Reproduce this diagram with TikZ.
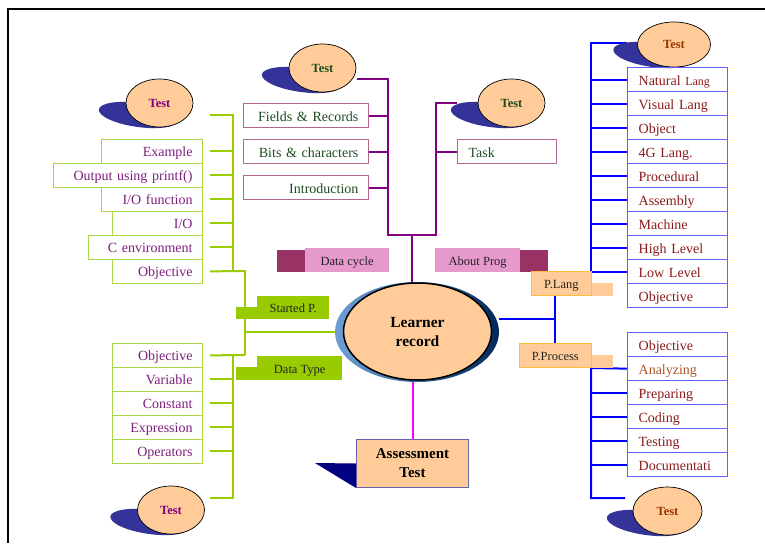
\documentclass[tikz,border=0pt]{standalone}
\usepackage{fontspec}
\setmainfont{Liberation Serif}
\usetikzlibrary{shapes.geometric}
\pgfdeclarelayer{bg}
\pgfsetlayers{bg,main}
\definecolor{peachC}{RGB}{255,204,153}
\definecolor{shC}{RGB}{51,51,153}
\definecolor{glC}{RGB}{153,204,0}
\definecolor{gbC}{RGB}{170,215,70}
\definecolor{gtC}{RGB}{125,30,125}
\definecolor{plC}{RGB}{128,0,128}
\definecolor{pbC}{RGB}{180,100,145}
\definecolor{ptC}{RGB}{30,75,30}
\definecolor{blC}{RGB}{0,0,255}
\definecolor{bbC}{RGB}{95,95,255}
\definecolor{btC}{RGB}{140,25,25}
\definecolor{anC}{RGB}{175,85,35}
\definecolor{brC}{RGB}{153,51,0}
\definecolor{pkC}{RGB}{230,153,204}
\definecolor{mrC}{RGB}{153,51,102}
\definecolor{gfC}{RGB}{153,204,0}
\definecolor{ringL}{RGB}{110,160,215}
\definecolor{ringD}{RGB}{0,40,90}
\definecolor{mgC}{RGB}{255,0,255}
\definecolor{asC}{RGB}{100,100,170}
\definecolor{navyC}{RGB}{0,0,128}
\definecolor{plbC}{RGB}{250,190,60}
\definecolor{lblC}{RGB}{35,35,35}
\begin{document}
\begin{tikzpicture}[x=1pt,y=-1pt,
 txt/.style={font=\fontsize{14}{16}\selectfont},
 lbox/.style={rectangle, minimum height=24pt, inner ysep=0pt, inner xsep=10pt, anchor=north east, align=right, text width=#1, text height=13pt, text depth=2pt, txt},
 gbox/.style={lbox=#1, draw=gbC, line width=0.9pt, text=gtC},
 pbox/.style={lbox=#1, draw=pbC, line width=1.2pt, text=ptC},
 bbox/.style={rectangle, minimum height=24pt, inner ysep=0pt, inner xsep=11pt, anchor=north west, align=left, text width=78pt, text height=13pt, text depth=2pt, draw=bbC, line width=1.3pt, text=btC, txt},
 testell/.style={ellipse, draw=black, line width=0.7pt, fill=peachC, minimum width=67pt, minimum height=48pt, inner sep=0pt, font=\bfseries\fontsize{12.5}{14}\selectfont},
 testsh/.style={ellipse, fill=shC, minimum width=80pt, minimum height=24pt, inner sep=0pt, rotate=-8},
 lbl/.style={rectangle, anchor=north west, inner sep=0pt, minimum height=24pt, text height=12.5pt, text depth=2.5pt, text=lblC, font=\fontsize{12.5}{14}\selectfont},
 gl/.style={draw=glC, line width=2pt},
 pl/.style={draw=plC, line width=2pt},
 bl/.style={draw=blC, line width=2pt},
 ml/.style={draw=mgC, line width=2pt}
]
\useasboundingbox (0,0) rectangle (765,543);
% frame
\draw[line width=2.5pt] (8,543) -- (8,9) -- (765,9);

% Test ellipses with shadows
\node[testsh] (t1s) at (138.5,115) {};
\node[testell, text=plC] (t1) at (159.5,103) {Test};
\node[testsh] (t2s) at (301.5,80) {};
\node[testell, text=ptC] (t2) at (322.5,68) {Test};
\node[testsh] (t3s) at (490.5,115) {};
\node[testell, text=ptC] (t3) at (511.5,103) {Test};
\node[testsh] (t4s) at (653,55) {};
\node[testell, text=brC, minimum width=73pt, minimum height=45pt] (t4) at (674,44.5) {Test};
\node[testsh] (t5s) at (150,522) {};
\node[testell, text=plC] (t5) at (171,510) {Test};
\node[testsh] (t6s) at (646.5,523) {};
\node[testell, text=brC, minimum width=69pt] (t6) at (667.5,511) {Test};

% upper-left green boxes
\node[gbox=81pt] (ex) at (203,139) {Example};
\node[gbox=129pt] (out) at (203,163) {Output using printf()};
\node[gbox=81pt] (iof) at (203,187) {I/O function};
\node[gbox=70pt] (io) at (203,211) {I/O};
\node[gbox=94pt] (cenv) at (203,235) {C environment};
\node[gbox=70pt] (ob1) at (203,259) {Objective};
% lower-left green boxes
\node[gbox=70pt] (ob2) at (203,343) {Objective};
\node[gbox=70pt] (var) at (203,367) {Variable};
\node[gbox=70pt] (con) at (203,391) {Constant};
\node[gbox=70pt] (expr) at (203,415) {Expression};
\node[gbox=70pt] (opr) at (203,439) {Operators};

% purple boxes
\node[pbox=105pt] (fr) at (369,103) {Fields \& Records};
\node[pbox=105pt] (bc) at (369,139) {Bits \& characters};
\node[pbox=105pt] (intro) at (369,175) {Introduction};
\node[pbox=77pt, anchor=north west, align=left, inner xsep=11pt] (task) at (457,139) {Task};

% right blue boxes (upper)
\node[bbox] (nat) at (627,67) {Natural {\fontsize{12}{14}\selectfont Lang}};
\node[bbox] (vis) at (627,91) {Visual Lang};
\node[bbox] (objl) at (627,115) {Object};
\node[bbox] (fg) at (627,139) {4G Lang.};
\node[bbox] (proc) at (627,163) {Procedural};
\node[bbox] (asm) at (627,187) {Assembly};
\node[bbox] (mach) at (627,211) {Machine};
\node[bbox] (high) at (627,235) {High Level};
\node[bbox] (low) at (627,259) {Low Level};
\node[bbox] (ob3) at (627,283) {Objective};
% right blue boxes (lower)
\node[bbox] (ob4) at (627,332) {Objective};
\node[bbox, text=anC] (ana) at (627,356) {Analyzing};
\node[bbox] (prep) at (627,380) {Preparing};
\node[bbox] (cod) at (627,404) {Coding};
\node[bbox] (tst) at (627,428) {Testing};
\node[bbox] (doc) at (627,452) {Documentati};

% coloured labels
\fill[mrC] (277,250) rectangle (305,272);
\node[lbl, fill=pkC, minimum width=84pt] (dc) at (305,248) {Data cycle};
\fill[mrC] (520,250) rectangle (548,272);
\node[lbl, fill=pkC, minimum width=85pt] (ap) at (435,248) {About Prog};
\fill[gfC] (236,307) rectangle (262,319);
\node[lbl, fill=gfC, minimum width=72pt, minimum height=23pt] (sp) at (257,296) {Started P.};
\fill[gfC] (236,367) rectangle (262,380);
\node[lbl, fill=gfC, minimum width=85pt] (dt) at (257,356) {Data Type};
\fill[peachC] (570,283) rectangle (613,296);
\node[lbl, fill=peachC, draw=plbC, line width=0.8pt, minimum width=60pt] (pla) at (531,271) {P.Lang};
\fill[peachC] (570,355) rectangle (613,368);
\node[lbl, fill=peachC, draw=plbC, line width=0.8pt, minimum width=72pt] (pp) at (519,343) {P.Process};

% centre
\node[ellipse, minimum width=164pt, minimum height=100pt, inner sep=0pt, left color=ringL, right color=ringD] (ring) at (417,332) {};
\node[ellipse, draw=black, line width=1.5pt, fill=peachC, minimum width=148pt, minimum height=97pt, inner sep=0pt, align=center, font=\bfseries\fontsize{15.5}{19}\selectfont] (lr) at (417.5,331.5) {Learner\\record};

% assessment
\node[draw=asC, line width=1pt, fill=peachC, minimum width=112pt, minimum height=48pt, inner sep=0pt, align=center, anchor=north west, font=\bfseries\fontsize{15}{19}\selectfont] (as) at (356,439) {Assessment\\Test};
\coordinate (ast) at (315,463);
\fill[navyC] (ast) -- (as.west) -- (as.south west) -- cycle;

\begin{pgfonlayer}{bg}
% green connectors
\coordinate (g0) at (210,115);
\coordinate (g1) at (233,115);
\coordinate (g2) at (233,271);
\coordinate (g3) at (245,271);
\coordinate (g4) at (245,355);
\coordinate (g5) at (233,355);
\coordinate (g6) at (233,498);
\coordinate (g7) at (210,498);
\coordinate (g8) at (245,332);
\draw[gl] (g0) -- (g1) -- (g2) -- (g3) -- (g4);
\foreach \n in {ex,out,iof,io,cenv}
  \draw[gl, shorten <=7pt] (\n.east) -- (\n.east -| g1);
\draw[gl, shorten <=7pt] (ob1.east) -- (g3);
\draw[gl, shorten <=7pt] (ob2.east) -- (g4);
\foreach \n in {var,con,expr,opr}
  \draw[gl, shorten <=7pt] (\n.east) -- (\n.east -| g5);
\draw[gl] (g5) -- (g6) -- (g7);
\draw[gl] (g8) -- (ring.west);
% purple connectors
\coordinate (p0) at (357,79);
\coordinate (p1) at (388,79);
\coordinate (p2) at (388,235);
\coordinate (p3) at (436,235);
\coordinate (p4) at (436,103);
\coordinate (p5) at (457,103);
\coordinate (pm) at (412,235);
\draw[pl] (p0) -- (p1) -- (p2) -- (p3) -- (p4) -- (p5);
\foreach \n in {fr,bc,intro}
  \draw[pl] (\n.east) -- (\n.east -| p1);
\draw[pl] (task.west) -- (task.west -| p4);
\draw[pl] (pm) -- (pm |- lr.north);
% blue connectors
\coordinate (b0) at (627,43);
\coordinate (b1) at (591,43);
\coordinate (b2) at (591,271);
\draw[bl] (b0) -- (b1) -- (b2);
\foreach \n in {nat,vis,objl,fg,proc,asm,mach,high,low}
  \draw[bl] (\n.west) -- (\n.west -| b1);
\coordinate (b3) at (555,319);
\draw[bl] (pla.south -| b3) -- (pp.north -| b3);
\draw[bl] (ring.east |- b3) -- (b3);
\coordinate (b4) at (591,368);
\coordinate (b5) at (591,498);
\coordinate (b6) at (625,498);
\draw[bl] (ana.west) -- (b4) -- (b5) -- (b6);
\foreach \n in {prep,cod,tst,doc}
  \draw[bl] (\n.west) -- (\n.west -| b4);
% magenta
\draw[ml] (as.north |- lr.south) -- (as.north);
\end{pgfonlayer}
\end{tikzpicture}
\end{document}
